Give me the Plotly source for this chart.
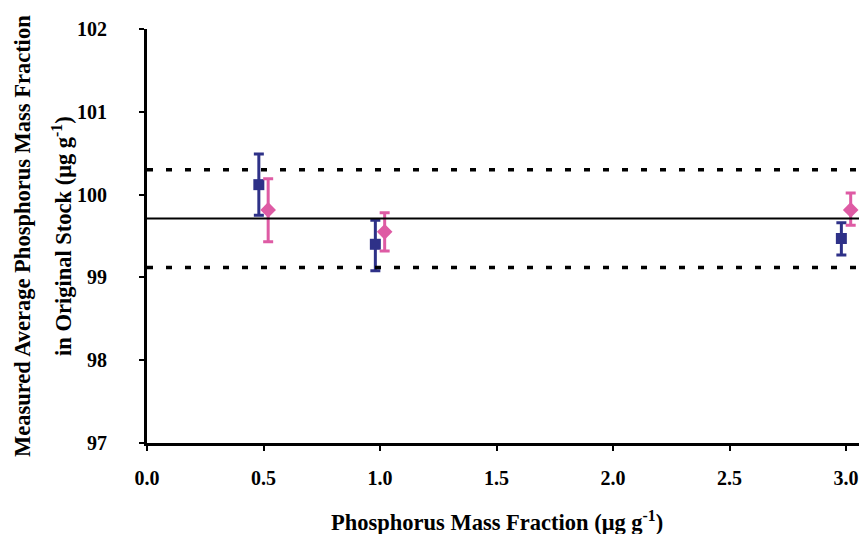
import plotly.graph_objects as go

# Data
blue_x = [0.48, 0.98, 2.98]
blue_y = [100.12, 99.40, 99.47]
blue_err_plus = [0.37, 0.29, 0.19]
blue_err_minus = [0.37, 0.32, 0.20]

pink_x = [0.52, 1.02, 3.02]
pink_y = [99.815, 99.55, 99.815]
pink_err_plus = [0.375, 0.23, 0.205]
pink_err_minus = [0.385, 0.23, 0.185]

mean_value = 99.71
limit_values = [100.30, 99.12]

x_tick_vals = [0.0, 0.5, 1.0, 1.5, 2.0, 2.5, 3.0]
y_tick_vals = [97, 98, 99, 100, 101, 102]

BLUE = "#2E3188"
PINK = "#DE5BA4"
FONT = "Liberation Serif"

# page offset of the figure inside the browser (body margin)
OFF = 8
W, H = 867 - OFF, 534 - OFF
L, T = 147 - OFF, 29 - OFF
B = H - (443 - OFF)
PW, PH = W - L, H - T - B

fig = go.Figure()

fig.add_trace(go.Scatter(
    x=blue_x, y=blue_y, mode="markers",
    marker=dict(symbol="square", size=11, color=BLUE),
    error_y=dict(type="data", symmetric=False, array=blue_err_plus,
                 arrayminus=blue_err_minus, color=BLUE, thickness=3, width=5),
    showlegend=False,
))
fig.add_trace(go.Scatter(
    x=pink_x, y=pink_y, mode="markers",
    marker=dict(symbol="diamond", size=12, color=PINK),
    error_y=dict(type="data", symmetric=False, array=pink_err_plus,
                 arrayminus=pink_err_minus, color=PINK, thickness=3, width=5),
    showlegend=False,
))

fig.add_shape(type="line", xref="paper", yref="y", x0=0, x1=1,
              y0=mean_value, y1=mean_value, line=dict(color="black", width=2))
for v in limit_values:
    fig.add_shape(type="line", xref="paper", yref="y", x0=0, x1=1,
                  y0=v, y1=v, line=dict(color="black", width=3.5, dash="6px,13px"))

tickfont = dict(family=FONT, size=20, color="black", weight="bold")
fig.update_layout(
    width=W, height=H,
    margin=dict(l=L, r=0, t=T, b=B, pad=0),
    paper_bgcolor="white", plot_bgcolor="white",
    font=dict(family=FONT, color="black", size=20),
    xaxis=dict(
        range=[0, 3.09], tickvals=x_tick_vals, tickformat=".1f",
        showgrid=False, zeroline=False,
        showline=True, linecolor="black", linewidth=3,
        ticks="outside", ticklen=5, tickwidth=2, tickcolor="black",
        tickfont=tickfont, ticklabelstandoff=10,
    ),
    yaxis=dict(
        range=[97, 102], tickvals=y_tick_vals,
        showgrid=False, zeroline=False,
        showline=True, linecolor="black", linewidth=3,
        ticks="outside", ticklen=5, tickwidth=2, tickcolor="black",
        tickfont=tickfont, ticklabelstandoff=28,
    ),
    annotations=[
        dict(text="<b>Phosphorus Mass Fraction (μg g<sup>-1</sup>)</b>",
             xref="paper", yref="paper", x=(497 - 147) / PW, y=-(521 - 443) / PH,
             xanchor="center", yanchor="middle", showarrow=False,
             font=dict(family=FONT, size=22.5, color="black")),
        dict(text="<b>Measured Average Phosphorus Mass Fraction</b>",
             xref="paper", yref="paper", x=-(147 - 22) / PW, y=0.5,
             xanchor="center", yanchor="middle", textangle=-90, showarrow=False,
             font=dict(family=FONT, size=22.5, color="black")),
        dict(text="<b>in Original Stock (μg g<sup>-1</sup>)</b>",
             xref="paper", yref="paper", x=-(147 - 62) / PW, y=0.5,
             xanchor="center", yanchor="middle", textangle=-90, showarrow=False,
             font=dict(family=FONT, size=22.5, color="black")),
    ],
)

fig.write_html("out.html")
